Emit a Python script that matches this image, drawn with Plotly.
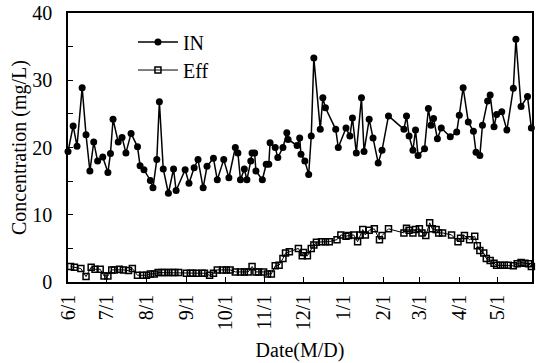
import plotly.graph_objects as go

# ---------------- data ----------------
in_dates = [
    "2002-06-01", "2002-06-05", "2002-06-08", "2002-06-12", "2002-06-15", "2002-06-18",
    "2002-06-21", "2002-06-24", "2002-06-28", "2002-07-02", "2002-07-04", "2002-07-06",
    "2002-07-10", "2002-07-13", "2002-07-16", "2002-07-20", "2002-07-25", "2002-07-27",
    "2002-07-30", "2002-08-04", "2002-08-06", "2002-08-09", "2002-08-11", "2002-08-14",
    "2002-08-18", "2002-08-22", "2002-08-24", "2002-08-31", "2002-09-03", "2002-09-07",
    "2002-09-10", "2002-09-14", "2002-09-17", "2002-09-22", "2002-09-25", "2002-09-30",
    "2002-10-04", "2002-10-09", "2002-10-11", "2002-10-13", "2002-10-16", "2002-10-18",
    "2002-10-21", "2002-10-22", "2002-10-24", "2002-10-25", "2002-10-30", "2002-11-02",
    "2002-11-04", "2002-11-05", "2002-11-09", "2002-11-11", "2002-11-15", "2002-11-18",
    "2002-11-19", "2002-11-26", "2002-11-28", "2002-11-29", "2002-12-02", "2002-12-05",
    "2002-12-07", "2002-12-09", "2002-12-14", "2002-12-16", "2002-12-18", "2002-12-26",
    "2002-12-28", "2003-01-03", "2003-01-06", "2003-01-08", "2003-01-11", "2003-01-15",
    "2003-01-17", "2003-01-21", "2003-01-24", "2003-01-28", "2003-01-31", "2003-02-05",
    "2003-02-17", "2003-02-19", "2003-02-21", "2003-02-24", "2003-02-26", "2003-02-28",
    "2003-03-05", "2003-03-08", "2003-03-10", "2003-03-12", "2003-03-15", "2003-03-18",
    "2003-03-25", "2003-03-30", "2003-04-01", "2003-04-04", "2003-04-08", "2003-04-12",
    "2003-04-14", "2003-04-17", "2003-04-19", "2003-04-23", "2003-04-25", "2003-04-28",
    "2003-04-30", "2003-05-04", "2003-05-08", "2003-05-13", "2003-05-15", "2003-05-19",
    "2003-05-24", "2003-05-27",
]
in_values = [
    19.4, 23.2, 20.2, 28.9, 21.9, 16.5,
    20.8, 18.0, 18.6, 16.3, 19.1, 24.2,
    20.8, 21.5, 19.2, 22.1, 20.1, 17.3,
    16.7, 15.1, 14.0, 18.2, 26.8, 16.8,
    13.2, 16.8, 13.6, 16.7, 14.7, 17.0,
    18.2, 14.0, 17.2, 18.4, 15.2, 18.2,
    15.5, 20.0, 19.2, 15.2, 16.8, 15.2,
    18.0, 19.2, 19.2, 16.5, 15.2, 17.5,
    17.5, 20.7, 20.0, 18.5, 20.0, 22.2,
    21.2, 20.3, 21.4, 19.0, 18.0, 16.0,
    21.7, 33.3, 22.7, 27.4, 25.9, 22.7,
    20.0, 22.9, 21.7, 24.4, 19.2, 27.4,
    19.4, 24.2, 21.4, 17.7, 19.6, 24.7,
    22.7, 24.7, 21.7, 19.6, 22.6, 18.8,
    19.8, 25.8, 23.3, 24.3, 21.3, 22.9,
    21.6, 22.3, 24.8, 28.9, 23.8, 22.4,
    19.3, 18.8, 23.3, 26.9, 27.8, 23.1,
    24.9, 25.3, 22.6, 28.8, 36.1, 26.1,
    27.6, 22.9,
]

eff_dates = [
    "2002-06-03", "2002-06-06", "2002-06-11", "2002-06-15", "2002-06-19", "2002-06-22",
    "2002-06-26", "2002-06-29", "2002-07-02", "2002-07-05", "2002-07-07", "2002-07-11",
    "2002-07-14", "2002-07-18", "2002-07-21", "2002-07-25", "2002-07-29", "2002-08-01",
    "2002-08-04", "2002-08-07", "2002-08-10", "2002-08-13", "2002-08-15", "2002-08-18",
    "2002-08-21", "2002-08-23", "2002-08-26", "2002-09-01", "2002-09-04", "2002-09-06",
    "2002-09-09", "2002-09-13", "2002-09-15", "2002-09-19", "2002-09-22", "2002-09-25",
    "2002-09-29", "2002-10-02", "2002-10-05", "2002-10-09", "2002-10-13", "2002-10-16",
    "2002-10-19", "2002-10-22", "2002-10-25", "2002-10-27", "2002-10-31", "2002-11-03",
    "2002-11-06", "2002-11-09", "2002-11-12", "2002-11-15", "2002-11-17", "2002-11-20",
    "2002-11-27", "2002-11-30", "2002-12-01", "2002-12-04", "2002-12-07", "2002-12-09",
    "2002-12-11", "2002-12-15", "2002-12-18", "2002-12-21", "2002-12-27", "2002-12-30",
    "2003-01-03", "2003-01-05", "2003-01-09", "2003-01-12", "2003-01-14", "2003-01-16",
    "2003-01-18", "2003-01-21", "2003-01-25", "2003-01-29", "2003-01-31", "2003-02-05",
    "2003-02-17", "2003-02-19", "2003-02-21", "2003-02-24", "2003-02-26", "2003-03-01",
    "2003-03-03", "2003-03-06", "2003-03-09", "2003-03-11", "2003-03-14", "2003-03-16",
    "2003-03-19", "2003-03-26", "2003-03-31", "2003-04-02", "2003-04-05", "2003-04-09",
    "2003-04-13", "2003-04-15", "2003-04-17", "2003-04-20", "2003-04-22", "2003-04-25",
    "2003-04-28", "2003-04-30", "2003-05-03", "2003-05-06", "2003-05-09", "2003-05-13",
    "2003-05-16", "2003-05-19", "2003-05-22", "2003-05-25", "2003-05-27",
]
eff_values = [
    2.3, 2.2, 2.0, 0.8, 2.2, 1.9,
    1.9, 0.9, 0.9, 1.8, 1.8, 1.9,
    1.8, 1.7, 2.0, 1.0, 1.0, 1.0,
    1.2, 1.2, 1.4, 1.4, 1.4, 1.4,
    1.4, 1.4, 1.4, 1.3, 1.3, 1.3,
    1.3, 1.3, 1.3, 1.0, 1.3, 1.8,
    1.8, 1.8, 1.8, 1.5, 1.5, 1.5,
    1.5, 2.3, 1.5, 1.5, 1.5, 1.2,
    1.2, 2.4, 2.5, 3.5, 4.3, 4.5,
    5.0, 3.9, 4.4, 3.9, 5.0, 5.5,
    5.9, 6.0, 6.0, 6.0, 6.3, 7.0,
    6.8, 6.9, 7.0, 6.0, 7.0, 7.8,
    7.0, 7.7, 7.9, 6.3, 6.9, 7.9,
    7.3, 8.0, 7.7, 7.3, 7.8, 7.9,
    7.3, 6.9, 8.8, 7.9, 7.8, 7.3,
    7.3, 7.0, 6.0, 6.5, 6.9, 6.3,
    6.8, 5.4, 4.7, 4.3, 3.5, 3.2,
    2.8, 2.5, 2.5, 2.5, 2.5, 2.4,
    2.7, 2.9, 2.8, 2.7, 2.3,
]

tick_dates = [
    "2002-06-01", "2002-07-01", "2002-08-01", "2002-09-01", "2002-10-01", "2002-11-01",
    "2002-12-01", "2003-01-01", "2003-02-01", "2003-03-01", "2003-04-01", "2003-05-01",
]
tick_labels = ["6/1", "7/1", "8/1", "9/1", "10/1", "11/1",
               "12/1", "1/1", "2/1", "3/1", "4/1", "5/1"]

FONT = "Liberation Serif"
FS = 20

fig = go.Figure()
fig.add_trace(go.Scatter(
    x=in_dates, y=in_values, name="IN", mode="lines+markers",
    line=dict(color="black", width=1.5),
    marker=dict(symbol="circle", size=7, color="black"),
    cliponaxis=False, legend="legend",
))
fig.add_trace(go.Scatter(
    x=eff_dates, y=eff_values, name="Eff", mode="lines+markers",
    line=dict(color="black", width=1),
    marker=dict(symbol="square-open", size=6, color="black", line=dict(width=1.5)),
    cliponaxis=False, legend="legend2",
))

fig.update_layout(
    width=536, height=363,
    margin=dict(l=68, r=2, t=13, b=81),
    paper_bgcolor="white", plot_bgcolor="white",
    font=dict(family=FONT, size=FS, color="black"),
    showlegend=True,
    legend=dict(x=0.14, y=0.892, xanchor="left", yanchor="middle",
                bgcolor="rgba(0,0,0,0)", font=dict(family=FONT, size=FS), itemwidth=40),
    legend2=dict(x=0.14, y=0.788, xanchor="left", yanchor="middle",
                 bgcolor="rgba(0,0,0,0)", font=dict(family=FONT, size=FS), itemwidth=40),
)
fig.update_xaxes(
    type="date",
    range=["2002-06-01", "2003-05-27 12:00"],
    tickmode="array", tickvals=tick_dates, ticktext=tick_labels,
    tickangle=-90, ticks="inside", ticklen=5, tickwidth=1, tickcolor="black",
    ticklabelstandoff=3,
    showline=True, linecolor="black", linewidth=1.5, mirror=True,
    showgrid=False, zeroline=False,
    title=dict(text="Date(M/D)", standoff=14, font=dict(family=FONT, size=FS)),
    tickfont=dict(family=FONT, size=FS),
)
fig.update_yaxes(
    range=[0, 40], dtick=10, tick0=0,
    ticks="inside", ticklen=5, tickwidth=1, tickcolor="black",
    minor=dict(dtick=5, ticks="inside", ticklen=5, tickcolor="black"),
    ticklabelstandoff=10,
    showline=True, linecolor="black", linewidth=1.5, mirror=True,
    showgrid=False, zeroline=False,
    title=dict(text="Concentration (mg/L)", standoff=0, font=dict(family=FONT, size=FS)),
    tickfont=dict(family=FONT, size=FS),
)

fig.write_html("out.html")
